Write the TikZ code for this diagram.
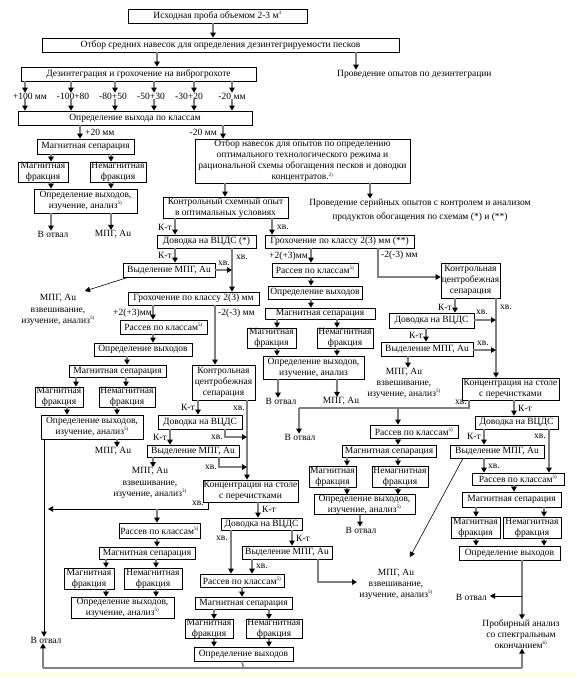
\documentclass[tikz,border=0pt]{standalone}
\usepackage{fontspec}
\setmainfont{Liberation Serif}
\usetikzlibrary{arrows.meta}
\newcommand\myfs{\fontsize{9.5}{11}\selectfont}
\newcommand\sps[1]{\textsuperscript{\tiny #1}}
\newcommand\mybx[6]{%
 \pgfmathsetmacro\mybw{#4-#2}%
 \pgfmathsetmacro\mybh{#5-#3}%
 \pgfmathsetmacro\mybcx{(#2+#4)/2}%
 \pgfmathsetmacro\mybcy{(#3+#5)/2}%
 \node[box,minimum width=\mybw pt,minimum height=\mybh pt] (#1) at (\mybcx,\mybcy) {#6};}
\newcommand\myva[4][ar]{\draw[#1] (#2.south -| #4,0) -- (#3.north -| #4,0);}
\definecolor{lgray}{RGB}{128,128,128}
\definecolor{pale}{RGB}{253,253,236}
\begin{document}
\begin{tikzpicture}[x=1pt,y=-1pt,
 box/.style={draw=black,line width=0.7pt,fill=white,inner sep=0pt,align=center,font=\myfs},
 lbl/.style={inner sep=0pt,align=center,font=\myfs},
 ar/.style={draw=lgray,line width=1.5pt,-{Triangle[length=5pt,width=5.5pt,color=black]}},
 ln/.style={draw=lgray,line width=1.5pt},
 tar/.style={draw=black,line width=0.6pt,-{Triangle[length=5pt,width=5.5pt,color=black]}},
 tln/.style={draw=black,line width=0.6pt}]
\useasboundingbox (0,0) rectangle (576,678);
\fill[white] (0,0) rectangle (576,678);
\fill[pale] (0,672) rectangle (576,678);
% ---------- top
\mybx{b1}{128}{9}{307}{23}{Исходная проба объемом 2-3 м\sps{3}}
\mybx{b2}{42}{38}{399}{52}{Отбор средних навесок для определения дезинтегрируемости песков}
\node[lbl,anchor=west] (pd) at (337,74) {Проведение опытов по дезинтеграции};
\mybx{b3}{21}{67}{256}{81}{Дезинтеграция и грохочение на виброгрохоте}
\node[lbl] (s1) at (30,96) {+100 мм};
\node[lbl] (s2) at (73,96) {-100+80};
\node[lbl] (s3) at (113,96) {-80+50};
\node[lbl] (s4) at (151,96) {-50+30};
\node[lbl] (s5) at (189,96) {-30+20};
\node[lbl] (s6) at (232,96) {-20 мм};
\mybx{b4}{18}{111}{252}{125}{Определение выхода по классам}
\node[lbl,anchor=west] (p20) at (85,132) {+20 мм};
\node[lbl,anchor=east] (m20) at (217,132) {-20 мм};
\mybx{b5}{195}{139}{410}{183}{Отбор навесок для опытов по определению\\оптимального технологического режима и\\рациональной схемы обогащения песков и доводки\\концентратов.\sps{2)}}
% ---------- left L1
\mybx{m1}{37}{139}{134}{154}{Магнитная сепарация}
\mybx{mf1}{18}{162}{68}{182}{Магнитная\\фракция}
\mybx{nf1}{90}{162}{146}{182}{Немагнитная\\фракция}
\mybx{ov1}{34}{189}{137}{213}{Определение выходов,\\изучение, анализ\sps{5)}}
\node[lbl] (ot1) at (53,234) {В отвал};
\node[lbl] (au1) at (113,234) {МПГ, Au};
% ---------- control chain
\mybx{k1}{163}{197}{288}{218}{Контрольный схемный опыт\\в оптимальных условиях}
\node[lbl] (ps) at (420,210) {Проведение серийных опытов с контролем и анализом\\[3pt]продуктов обогащения по схемам (*) и (**)};
\mybx{d1}{157}{235}{256}{248}{Доводка на ВЦДС (*)}
\mybx{g1}{265}{235}{414}{248}{Грохочение по классу 2(3) мм (**)}
\mybx{v1}{123}{263}{215}{277}{Выделение МПГ, Au}
\node[lbl,font=\fontsize{9.5}{11.5}\selectfont] (t1) at (58,310) {МПГ, Au\\взвешивание,\\изучение, анализ\sps{5)}};
\mybx{g2}{128}{292}{259}{305}{Грохочение по классу 2(3) мм}
\mybx{r2}{120}{320}{207}{334}{Рассев по классам\sps{5)}}
\mybx{o2}{94}{343}{192}{356}{Определение выходов}
\mybx{m2}{69}{365}{166}{377}{Магнитная сепарация}
\mybx{mf2}{35}{387}{83}{407}{Магнитная\\фракция}
\mybx{nf2}{99}{387}{155}{407}{Немагнитная\\фракция}
\mybx{ov2}{41}{415}{143}{439}{Определение выходов,\\изучение, анализ\sps{5)}}
\node[lbl] (au2) at (113,451) {МПГ, Au};
\mybx{c2}{192}{365}{255}{400}{Контрольная\\центробежная\\сепарация}
\mybx{d2}{158}{415}{242}{429}{Доводка на ВЦДС}
\mybx{v2}{147}{445}{239}{457}{Выделение МПГ, Au}
\node[lbl,font=\fontsize{9.5}{11.5}\selectfont] (t2) at (150,483) {МПГ, Au\\взвешивание,\\изучение, анализ\sps{5)}};
\mybx{kc3}{203}{480}{298}{502}{Концентрация на столе\\с перечистками}
\mybx{d3}{221}{518}{302}{530}{Доводка на ВЦДС}
\mybx{v3}{242}{546}{332}{559}{Выделение МПГ, Au}
\mybx{r4}{200}{574}{284}{587}{Рассев по классам\sps{5)}}
\mybx{m4}{195}{597}{292}{609}{Магнитная сепарация}
\mybx{mf4}{185}{620}{233}{638}{Магнитная\\фракция}
\mybx{nf4}{246}{620}{302}{638}{Немагнитная\\фракция}
\mybx{o4}{194}{647}{293}{661}{Определение выходов}
\mybx{r3}{119}{523}{200}{538}{Рассев по классам\sps{5)}}
\mybx{m3}{99}{547}{195}{559}{Магнитная сепарация}
\mybx{mf3}{64}{568}{114}{589}{Магнитная\\фракция}
\mybx{nf3}{124}{568}{182}{589}{Немагнитная\\фракция}
\mybx{ov3}{71}{597}{174}{618}{Определение выходов,\\изучение, анализ\sps{5)}}
\node[lbl] (ot2) at (46,640) {В отвал};
% ---------- middle
\mybx{rM}{272}{263}{358}{277}{Рассев по классам\sps{5)}}
\mybx{oM}{268}{286}{362}{299}{Определение выходов}
\mybx{mM}{265}{308}{375}{319}{Магнитная сепарация}
\mybx{mfM}{247}{328}{296}{348}{Магнитная\\фракция}
\mybx{nfM}{317}{328}{373}{348}{Немагнитная\\фракция}
\mybx{ovM}{263}{356}{364}{379}{Определение выходов,\\изучение, анализ}
\node[lbl] (ot3) at (281,401) {В отвал};
\node[lbl] (au3) at (341,401) {МПГ, Au};
% ---------- right
\mybx{cR}{441}{263}{500}{298}{Контрольная\\центробежная\\сепарация}
\mybx{dR}{389}{313}{474}{328}{Доводка на ВЦДС}
\mybx{vR}{381}{342}{473}{356}{Выделение МПГ, Au}
\node[lbl,font=\fontsize{9.5}{11}\selectfont] (t3) at (404,383) {МПГ, Au\\взвешивание,\\изучение, анализ\sps{5)}};
\mybx{kR}{462}{378}{559}{400}{Концентрация на столе\\с перечистками}
\node[lbl] (ot4) at (300,437) {В отвал};
\mybx{rRM}{370}{425}{458}{438}{Рассев по классам\sps{5)}}
\mybx{mRM}{342}{445}{436}{457}{Магнитная сепарация}
\mybx{mfRM}{309}{466}{356}{487}{Магнитная\\фракция}
\mybx{nfRM}{372}{466}{428}{487}{Немагнитная\\фракция}
\mybx{ovRM}{314}{495}{415}{514}{Определение выходов,\\изучение, анализ\sps{5)}}
\node[lbl] (ot5) at (361,530) {В отвал};
\mybx{dR2}{475}{416}{558}{429}{Доводка на ВЦДС}
\mybx{vR2}{450}{445}{544}{458}{Выделение МПГ, Au}
\mybx{rR3}{472}{473}{564}{485}{Рассев по классам\sps{5)}}
\mybx{mR3}{462}{492}{561}{507}{Магнитная сепарация}
\mybx{mfR3}{451}{517}{500}{538}{Магнитная\\фракция}
\mybx{nfR3}{503}{517}{561}{538}{Немагнитная\\фракция}
\mybx{oR3}{459}{546}{560}{560}{Определение выходов}
\node[lbl,anchor=east] (ot6) at (487,597) {В отвал};
\node[lbl] (pa) at (521,634) {Пробирный анализ\\со спектральным\\окончанием\sps{6)}};
\node[lbl] (t4) at (396,584) {МПГ, Au\\взвешивание,\\изучение, анализ\sps{5)}};
% ---------- small labels
\node[lbl,anchor=east] (kt1) at (172,227) {К-т};
\node[lbl,anchor=west] (xv1) at (277,227) {хв.};
\node[lbl,anchor=east] (kt2) at (172,255) {К-т};
\node[lbl,anchor=west] (xv2) at (236,257) {хв.};
\node[lbl,anchor=west] (xv3) at (218,263) {хв.};
\node[lbl,anchor=east] (pl1) at (152,313) {+2(+3)мм};
\node[lbl,anchor=west] (mi1) at (218,313) {-2(-3) мм};
\node[lbl,anchor=east] (kt3) at (195,407) {К-т};
\node[lbl,anchor=east] (xv4) at (245,408) {хв.};
\node[lbl,anchor=east] (xv5) at (223,437) {хв.};
\node[lbl,anchor=east] (kt4) at (167,437) {К-т};
\node[lbl,anchor=east] (xv6) at (217,467) {хв.};
\node[lbl,anchor=west] (xv7) at (192,503) {хв.};
\node[lbl,anchor=west] (kt5) at (262,509) {К-т};
\node[lbl,anchor=east] (xv8) at (228,538) {хв.};
\node[lbl,anchor=west] (kt6) at (296,538) {К-т};
\node[lbl,anchor=west] (xv9) at (256,566) {хв.};
\node[lbl,anchor=east] (pl2) at (308,256) {+2(+3)мм};
\node[lbl,anchor=west] (mi2) at (381,255) {-2(-3) мм};
\node[lbl,anchor=east] (kt7) at (452,307) {К-т};
\node[lbl,anchor=west] (xv10) at (500,307) {хв.};
\node[lbl,anchor=west] (xv11) at (476,312) {хв.};
\node[lbl,anchor=east] (kt8) at (423,335) {К-т};
\node[lbl,anchor=west] (xv12) at (477,343) {хв.};
\node[lbl,anchor=east] (xv13) at (467,402) {хв.};
\node[lbl,anchor=west] (kt9) at (518,408) {К-т};
\node[lbl,anchor=east] (kt10) at (481,436) {К-т};
\node[lbl,anchor=east] (xv14) at (546,436) {хв.};
\node[lbl,anchor=west] (xv15) at (488,466) {хв.};
% ---------- connectors
\myva{b1}{b2}{213}
\myva{b2}{b3}{157}
\myva{b2}{pd}{356}
\foreach \n/\x in {s1/25,s2/71,s3/115,s4/154,s5/194,s6/232}{\myva{b3}{\n}{\x}\myva{\n}{b4}{\x}}
\myva{b4}{m1}{80}
\myva{b4}{b5}{223}
\myva{m1}{mf1}{51}\myva{m1}{nf1}{111}
\myva{mf1}{ov1}{51}\myva{nf1}{ov1}{111}
\myva{ov1}{ot1}{51}\myva{ov1}{au1}{111}
\myva{b5}{k1}{225}
\myva{b5}{ps}{370}
\myva{k1}{d1}{175}
\myva{k1}{g1}{272}
\myva{d1}{v1}{175}
\myva{d1}{g2}{232}
\coordinate (j1) at (232,270);
\draw[ar] (v1.east |- j1) -- (j1);
\coordinate (j2) at (85,291);
\draw[tar] (v1.south -| 128,0) -- (j2);
\myva{g2}{r2}{153}
\myva{g2}{c2}{215}
\myva{r2}{o2}{153}
\myva{o2}{m2}{127}
\myva{m2}{mf2}{76}\myva{m2}{nf2}{126}
\myva{mf2}{ov2}{67}\myva{nf2}{ov2}{117}
\myva{ov2}{au2}{117}
\myva[tar]{ov2}{ot2}{44}
\myva{c2}{d2}{198}
\myva{c2}{kc3}{247}
\coordinate (j3) at (247,437);
\draw[ar] (d2.south -| 225,0) |- (j3);
\myva{d2}{v2}{170}
\coordinate (j4) at (247,467);
\draw[ar] (v2.south -| 219,0) |- (j4);
\myva{v2}{t2}{153}
\coordinate (j5) at (48,509);
\coordinate (j6) at (157,509);
\draw[tar] (kc3.south -| 208,0) |- (j5);
\draw[ar] (j6) -- (r3.north -| j6);
\myva{kc3}{d3}{258}
\myva{d3}{r4}{231}
\myva{d3}{v3}{292}
\myva{v3}{r4}{252}
\coordinate (j7) at (357,582);
\draw[ar] (v3.south -| 318,0) |- (j7);
\myva{r4}{m4}{242}
\myva{m4}{mf4}{214}\myva{m4}{nf4}{269}
\myva{mf4}{o4}{214}\myva{nf4}{o4}{269}
\myva{r3}{m3}{157}
\myva{m3}{mf3}{106}\myva{m3}{nf3}{156}
\myva{mf3}{ov3}{106}\myva{nf3}{ov3}{156}
\coordinate (j8) at (43,668);
\coordinate (j9) at (522,668);
\draw[ln] (o4.south -| 242,0) -- (o4.south |- j8);
\draw[ln,line width=2.2pt] (j8) -- (j9);
\draw[ar] (j8) -- (ot2.south -| j8);
\draw[ar] (j9) -- (pa.south -| j9);
% middle
\myva{g1}{rM}{311}
\coordinate (j10) at (441,277);
\draw[ar] (g1.south -| 378,0) |- (cR.west |- j10);
\myva{rM}{oM}{311}
\myva{oM}{mM}{311}
\myva{mM}{mfM}{277}\myva{mM}{nfM}{337}
\myva{mfM}{ovM}{277}\myva{nfM}{ovM}{337}
\myva{ovM}{ot3}{278}\myva{ovM}{au3}{337}
% right
\myva{cR}{dR}{455}
\myva{cR}{kR}{496}
\coordinate (j11) at (496,320);
\draw[ar] (dR.east |- j11) -- (j11);
\myva{dR}{vR}{426}
\coordinate (j12) at (496,350);
\draw[ar] (vR.east |- j12) -- (j12);
\myva{vR}{t3}{408}
\coordinate (j13) at (299,408);
\coordinate (j14) at (398,408);
\draw[ln] (kR.south -| 469,0) |- (j13);
\draw[ar] (j13) -- (ot4.north -| j13);
\draw[ar] (j14) -- (rRM.north -| j14);
\myva{kR}{dR2}{514}
\myva{dR2}{vR2}{484}
\myva{dR2}{rR3}{549}
\myva{vR2}{rR3}{484}
\coordinate (j15) at (410,557);
\draw[tar] (vR2.south -| 463,0) -- (j15);
\myva{rRM}{mRM}{398}
\myva{mRM}{mfRM}{347}\myva{mRM}{nfRM}{398}
\myva{mfRM}{ovRM}{347}\myva{nfRM}{ovRM}{398}
\myva{ovRM}{ot5}{360}
\myva{rR3}{mR3}{514}
\myva{mR3}{mfR3}{476}\myva{mR3}{nfR3}{544}
\myva{mfR3}{oR3}{476}\myva{nfR3}{oR3}{544}
\myva{oR3}{pa}{522}
\coordinate (j16) at (522,596);
\draw[tar] (j16) -- ([xshift=3pt]ot6.east |- j16);
\end{tikzpicture}
\end{document}
